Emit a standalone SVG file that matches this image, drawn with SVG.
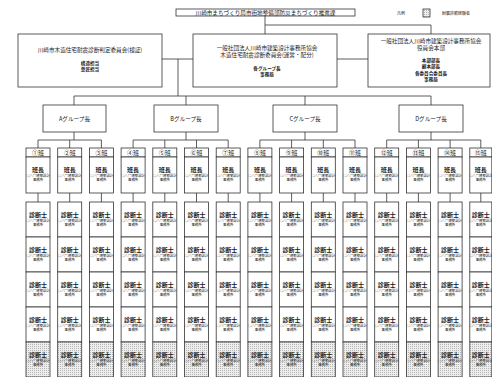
<svg xmlns="http://www.w3.org/2000/svg" width="492" height="377" viewBox="0 0 492 377">
<style>
.box{fill:#fff;stroke:#333;stroke-width:0.8}
.shade{fill:url(#dots);stroke:#333;stroke-width:0.8}
.ln{stroke:#333;stroke-width:0.8;fill:none}
text{font-family:"Noto Sans CJK JP","Noto Sans",sans-serif;fill:#222;text-anchor:middle}
.t{font-size:5.6px}
.b{font-size:4.6px;font-weight:bold}
.hd{font-size:6px}
.nm{font-size:6px;font-weight:bold}
.sm{font-size:3.4px}
.lg{font-size:4px;text-anchor:start}
</style>
<defs>
<pattern id="dots" width="2" height="2" patternUnits="userSpaceOnUse"><rect width="2" height="2" fill="#eeeeee"/><rect width="1" height="1" fill="#b5b5b5"/></pattern>
</defs>
<rect width="492" height="377" fill="#fff"/>

<g id="connectors" class="ln">
<path d="M265,16 V34"/>
<path d="M265,25 H431 V34"/>
<path d="M162,59 H193"/>
<path d="M337,59 H368"/>
<path d="M178,59 V96"/>
<path d="M74,96 H431"/>
<path d="M74,96 V105 M186,96 V105 M305,96 V105 M431,96 V105"/>
<path d="M74,132 V140 M38,140 H101.4 M38,140 V148 M69.7,140 V148 M101.4,140 V148"/>
<path d="M186,132 V140 M133.1,140 H228.2 M133.1,140 V148 M164.8,140 V148 M196.5,140 V148 M228.2,140 V148"/>
<path d="M305,132 V140 M259.9,140 H355 M259.9,140 V148 M291.6,140 V148 M323.3,140 V148 M355,140 V148"/>
<path d="M431,132 V140 M386.7,140 H480.8 M386.7,140 V148 M418.4,140 V148 M450.1,140 V148 M480.8,140 V148"/>
<path d="M38,193 V202 M69.7,193 V202 M101.4,193 V202 M133.1,193 V202 M164.8,193 V202 M196.5,193 V202 M228.2,193 V202 M259.9,193 V202 M291.6,193 V202 M323.3,193 V202 M355,193 V202 M386.7,193 V202 M418.4,193 V202 M450.1,193 V202 M480.8,193 V202"/>
</g>

<g id="title">
<rect class="box" x="176" y="9" width="179" height="7"/>
<text class="t" x="265.5" y="14.8">川崎市まちづくり局市街地整備部防災まちづくり推進課</text>
</g>

<g id="legend">
<text class="lg" x="397" y="14.5">凡例</text>
<rect class="shade" x="423" y="9" width="7" height="8"/>
<text class="lg" x="442" y="14.5">耐震診断経験者</text>
</g>

<g id="committee">
<rect class="box" x="18" y="34" width="144" height="53"/>
<text class="t" x="90" y="52">川崎市木造住宅耐震診断判定委員会(検証)</text>
<text class="b" x="90" y="64.5">構造担当</text>
<text class="b" x="90" y="71">意匠担当</text>
</g>

<g id="association">
<rect class="box" x="193" y="34" width="144" height="53"/>
<text class="t" x="267" y="49.5">一般社団法人川崎市建築設計事務所協会</text>
<text class="t" x="267" y="57">木造住宅耐震診断委員会(運営・配分)</text>
<text class="b" x="267" y="69.5">各グループ長</text>
<text class="b" x="267" y="76">事務局</text>
</g>

<g id="headquarters">
<rect class="box" x="368" y="34" width="122" height="53"/>
<text class="t" x="431" y="42.5">一般社団法人川崎市建築設計事務所協会</text>
<text class="t" x="431" y="49.5">役員会本部</text>
<text class="b" x="431" y="62">本部部長</text>
<text class="b" x="431" y="68.3">副本部長</text>
<text class="b" x="431" y="74.6">各委員会委員長</text>
<text class="b" x="431" y="81">事務局</text>
</g>

<g id="groupA"><rect class="box" x="43" y="105" width="63" height="27"/><text class="t" x="74.5" y="120.5">Aグループ長</text></g>
<g id="groupB"><rect class="box" x="154" y="105" width="64" height="27"/><text class="t" x="186" y="120.5">Bグループ長</text></g>
<g id="groupC"><rect class="box" x="273" y="105" width="64" height="27"/><text class="t" x="305" y="120.5">Cグループ長</text></g>
<g id="groupD"><rect class="box" x="399" y="105" width="64" height="27"/><text class="t" x="431" y="120.5">Dグループ長</text></g>

<g id="team1">
<rect class="box" x="26" y="148" width="24" height="9"/><text class="hd" x="38" y="155">①班</text>
<rect class="box" x="26" y="157" width="24" height="36"/><text class="nm" x="38" y="172">班長</text><text class="sm" x="38" y="176.5">○△□建築設計</text><text class="sm" x="38" y="180.5">事務所</text>
<rect class="box" x="26" y="202" width="24" height="35"/><text class="nm" x="38" y="217">診断士</text><text class="sm" x="38" y="221.5">○△□建築設計</text><text class="sm" x="38" y="225.5">事務所</text>
<rect class="box" x="26" y="237" width="24" height="35"/><text class="nm" x="38" y="252">診断士</text><text class="sm" x="38" y="256.5">○△□建築設計</text><text class="sm" x="38" y="260.5">事務所</text>
<rect class="box" x="26" y="272" width="24" height="35"/><text class="nm" x="38" y="287">診断士</text><text class="sm" x="38" y="291.5">○△□建築設計</text><text class="sm" x="38" y="295.5">事務所</text>
<rect class="box" x="26" y="307" width="24" height="35"/><text class="nm" x="38" y="322">診断士</text><text class="sm" x="38" y="326.5">○△□建築設計</text><text class="sm" x="38" y="330.5">事務所</text>
<rect class="shade" x="26" y="342" width="24" height="35"/><text class="nm" x="38" y="357">診断士</text><text class="sm" x="38" y="361.5">○△□建築設計</text><text class="sm" x="38" y="365.5">事務所</text>
</g>

<g id="team2">
<rect class="box" x="57.7" y="148" width="24" height="9"/><text class="hd" x="69.7" y="155">②班</text>
<rect class="box" x="57.7" y="157" width="24" height="36"/><text class="nm" x="69.7" y="172">班長</text><text class="sm" x="69.7" y="176.5">○△□建築設計</text><text class="sm" x="69.7" y="180.5">事務所</text>
<rect class="box" x="57.7" y="202" width="24" height="35"/><text class="nm" x="69.7" y="217">診断士</text><text class="sm" x="69.7" y="221.5">○△□建築設計</text><text class="sm" x="69.7" y="225.5">事務所</text>
<rect class="box" x="57.7" y="237" width="24" height="35"/><text class="nm" x="69.7" y="252">診断士</text><text class="sm" x="69.7" y="256.5">○△□建築設計</text><text class="sm" x="69.7" y="260.5">事務所</text>
<rect class="box" x="57.7" y="272" width="24" height="35"/><text class="nm" x="69.7" y="287">診断士</text><text class="sm" x="69.7" y="291.5">○△□建築設計</text><text class="sm" x="69.7" y="295.5">事務所</text>
<rect class="box" x="57.7" y="307" width="24" height="35"/><text class="nm" x="69.7" y="322">診断士</text><text class="sm" x="69.7" y="326.5">○△□建築設計</text><text class="sm" x="69.7" y="330.5">事務所</text>
<rect class="shade" x="57.7" y="342" width="24" height="35"/><text class="nm" x="69.7" y="357">診断士</text><text class="sm" x="69.7" y="361.5">○△□建築設計</text><text class="sm" x="69.7" y="365.5">事務所</text>
</g>

<g id="team3">
<rect class="box" x="89.4" y="148" width="24" height="9"/><text class="hd" x="101.4" y="155">③班</text>
<rect class="box" x="89.4" y="157" width="24" height="36"/><text class="nm" x="101.4" y="172">班長</text><text class="sm" x="101.4" y="176.5">○△□建築設計</text><text class="sm" x="101.4" y="180.5">事務所</text>
<rect class="box" x="89.4" y="202" width="24" height="35"/><text class="nm" x="101.4" y="217">診断士</text><text class="sm" x="101.4" y="221.5">○△□建築設計</text><text class="sm" x="101.4" y="225.5">事務所</text>
<rect class="box" x="89.4" y="237" width="24" height="35"/><text class="nm" x="101.4" y="252">診断士</text><text class="sm" x="101.4" y="256.5">○△□建築設計</text><text class="sm" x="101.4" y="260.5">事務所</text>
<rect class="box" x="89.4" y="272" width="24" height="35"/><text class="nm" x="101.4" y="287">診断士</text><text class="sm" x="101.4" y="291.5">○△□建築設計</text><text class="sm" x="101.4" y="295.5">事務所</text>
<rect class="box" x="89.4" y="307" width="24" height="35"/><text class="nm" x="101.4" y="322">診断士</text><text class="sm" x="101.4" y="326.5">○△□建築設計</text><text class="sm" x="101.4" y="330.5">事務所</text>
<rect class="shade" x="89.4" y="342" width="24" height="35"/><text class="nm" x="101.4" y="357">診断士</text><text class="sm" x="101.4" y="361.5">○△□建築設計</text><text class="sm" x="101.4" y="365.5">事務所</text>
</g>

<g id="team4">
<rect class="box" x="121.1" y="148" width="24" height="9"/><text class="hd" x="133.1" y="155">④班</text>
<rect class="box" x="121.1" y="157" width="24" height="36"/><text class="nm" x="133.1" y="172">班長</text><text class="sm" x="133.1" y="176.5">○△□建築設計</text><text class="sm" x="133.1" y="180.5">事務所</text>
<rect class="box" x="121.1" y="202" width="24" height="35"/><text class="nm" x="133.1" y="217">診断士</text><text class="sm" x="133.1" y="221.5">○△□建築設計</text><text class="sm" x="133.1" y="225.5">事務所</text>
<rect class="box" x="121.1" y="237" width="24" height="35"/><text class="nm" x="133.1" y="252">診断士</text><text class="sm" x="133.1" y="256.5">○△□建築設計</text><text class="sm" x="133.1" y="260.5">事務所</text>
<rect class="box" x="121.1" y="272" width="24" height="35"/><text class="nm" x="133.1" y="287">診断士</text><text class="sm" x="133.1" y="291.5">○△□建築設計</text><text class="sm" x="133.1" y="295.5">事務所</text>
<rect class="box" x="121.1" y="307" width="24" height="35"/><text class="nm" x="133.1" y="322">診断士</text><text class="sm" x="133.1" y="326.5">○△□建築設計</text><text class="sm" x="133.1" y="330.5">事務所</text>
<rect class="shade" x="121.1" y="342" width="24" height="35"/><text class="nm" x="133.1" y="357">診断士</text><text class="sm" x="133.1" y="361.5">○△□建築設計</text><text class="sm" x="133.1" y="365.5">事務所</text>
</g>

<g id="team5">
<rect class="box" x="152.8" y="148" width="24" height="9"/><text class="hd" x="164.8" y="155">⑤班</text>
<rect class="box" x="152.8" y="157" width="24" height="36"/><text class="nm" x="164.8" y="172">班長</text><text class="sm" x="164.8" y="176.5">○△□建築設計</text><text class="sm" x="164.8" y="180.5">事務所</text>
<rect class="box" x="152.8" y="202" width="24" height="35"/><text class="nm" x="164.8" y="217">診断士</text><text class="sm" x="164.8" y="221.5">○△□建築設計</text><text class="sm" x="164.8" y="225.5">事務所</text>
<rect class="box" x="152.8" y="237" width="24" height="35"/><text class="nm" x="164.8" y="252">診断士</text><text class="sm" x="164.8" y="256.5">○△□建築設計</text><text class="sm" x="164.8" y="260.5">事務所</text>
<rect class="box" x="152.8" y="272" width="24" height="35"/><text class="nm" x="164.8" y="287">診断士</text><text class="sm" x="164.8" y="291.5">○△□建築設計</text><text class="sm" x="164.8" y="295.5">事務所</text>
<rect class="box" x="152.8" y="307" width="24" height="35"/><text class="nm" x="164.8" y="322">診断士</text><text class="sm" x="164.8" y="326.5">○△□建築設計</text><text class="sm" x="164.8" y="330.5">事務所</text>
<rect class="shade" x="152.8" y="342" width="24" height="35"/><text class="nm" x="164.8" y="357">診断士</text><text class="sm" x="164.8" y="361.5">○△□建築設計</text><text class="sm" x="164.8" y="365.5">事務所</text>
</g>

<g id="team6">
<rect class="box" x="184.5" y="148" width="24" height="9"/><text class="hd" x="196.5" y="155">⑥班</text>
<rect class="box" x="184.5" y="157" width="24" height="36"/><text class="nm" x="196.5" y="172">班長</text><text class="sm" x="196.5" y="176.5">○△□建築設計</text><text class="sm" x="196.5" y="180.5">事務所</text>
<rect class="box" x="184.5" y="202" width="24" height="35"/><text class="nm" x="196.5" y="217">診断士</text><text class="sm" x="196.5" y="221.5">○△□建築設計</text><text class="sm" x="196.5" y="225.5">事務所</text>
<rect class="box" x="184.5" y="237" width="24" height="35"/><text class="nm" x="196.5" y="252">診断士</text><text class="sm" x="196.5" y="256.5">○△□建築設計</text><text class="sm" x="196.5" y="260.5">事務所</text>
<rect class="box" x="184.5" y="272" width="24" height="35"/><text class="nm" x="196.5" y="287">診断士</text><text class="sm" x="196.5" y="291.5">○△□建築設計</text><text class="sm" x="196.5" y="295.5">事務所</text>
<rect class="box" x="184.5" y="307" width="24" height="35"/><text class="nm" x="196.5" y="322">診断士</text><text class="sm" x="196.5" y="326.5">○△□建築設計</text><text class="sm" x="196.5" y="330.5">事務所</text>
<rect class="shade" x="184.5" y="342" width="24" height="35"/><text class="nm" x="196.5" y="357">診断士</text><text class="sm" x="196.5" y="361.5">○△□建築設計</text><text class="sm" x="196.5" y="365.5">事務所</text>
</g>

<g id="team7">
<rect class="box" x="216.2" y="148" width="24" height="9"/><text class="hd" x="228.2" y="155">⑦班</text>
<rect class="box" x="216.2" y="157" width="24" height="36"/><text class="nm" x="228.2" y="172">班長</text><text class="sm" x="228.2" y="176.5">○△□建築設計</text><text class="sm" x="228.2" y="180.5">事務所</text>
<rect class="box" x="216.2" y="202" width="24" height="35"/><text class="nm" x="228.2" y="217">診断士</text><text class="sm" x="228.2" y="221.5">○△□建築設計</text><text class="sm" x="228.2" y="225.5">事務所</text>
<rect class="box" x="216.2" y="237" width="24" height="35"/><text class="nm" x="228.2" y="252">診断士</text><text class="sm" x="228.2" y="256.5">○△□建築設計</text><text class="sm" x="228.2" y="260.5">事務所</text>
<rect class="box" x="216.2" y="272" width="24" height="35"/><text class="nm" x="228.2" y="287">診断士</text><text class="sm" x="228.2" y="291.5">○△□建築設計</text><text class="sm" x="228.2" y="295.5">事務所</text>
<rect class="box" x="216.2" y="307" width="24" height="35"/><text class="nm" x="228.2" y="322">診断士</text><text class="sm" x="228.2" y="326.5">○△□建築設計</text><text class="sm" x="228.2" y="330.5">事務所</text>
<rect class="shade" x="216.2" y="342" width="24" height="35"/><text class="nm" x="228.2" y="357">診断士</text><text class="sm" x="228.2" y="361.5">○△□建築設計</text><text class="sm" x="228.2" y="365.5">事務所</text>
</g>

<g id="team8">
<rect class="box" x="247.9" y="148" width="24" height="9"/><text class="hd" x="259.9" y="155">⑧班</text>
<rect class="box" x="247.9" y="157" width="24" height="36"/><text class="nm" x="259.9" y="172">班長</text><text class="sm" x="259.9" y="176.5">○△□建築設計</text><text class="sm" x="259.9" y="180.5">事務所</text>
<rect class="box" x="247.9" y="202" width="24" height="35"/><text class="nm" x="259.9" y="217">診断士</text><text class="sm" x="259.9" y="221.5">○△□建築設計</text><text class="sm" x="259.9" y="225.5">事務所</text>
<rect class="box" x="247.9" y="237" width="24" height="35"/><text class="nm" x="259.9" y="252">診断士</text><text class="sm" x="259.9" y="256.5">○△□建築設計</text><text class="sm" x="259.9" y="260.5">事務所</text>
<rect class="box" x="247.9" y="272" width="24" height="35"/><text class="nm" x="259.9" y="287">診断士</text><text class="sm" x="259.9" y="291.5">○△□建築設計</text><text class="sm" x="259.9" y="295.5">事務所</text>
<rect class="box" x="247.9" y="307" width="24" height="35"/><text class="nm" x="259.9" y="322">診断士</text><text class="sm" x="259.9" y="326.5">○△□建築設計</text><text class="sm" x="259.9" y="330.5">事務所</text>
<rect class="shade" x="247.9" y="342" width="24" height="35"/><text class="nm" x="259.9" y="357">診断士</text><text class="sm" x="259.9" y="361.5">○△□建築設計</text><text class="sm" x="259.9" y="365.5">事務所</text>
</g>

<g id="team9">
<rect class="box" x="279.6" y="148" width="24" height="9"/><text class="hd" x="291.6" y="155">⑨班</text>
<rect class="box" x="279.6" y="157" width="24" height="36"/><text class="nm" x="291.6" y="172">班長</text><text class="sm" x="291.6" y="176.5">○△□建築設計</text><text class="sm" x="291.6" y="180.5">事務所</text>
<rect class="box" x="279.6" y="202" width="24" height="35"/><text class="nm" x="291.6" y="217">診断士</text><text class="sm" x="291.6" y="221.5">○△□建築設計</text><text class="sm" x="291.6" y="225.5">事務所</text>
<rect class="box" x="279.6" y="237" width="24" height="35"/><text class="nm" x="291.6" y="252">診断士</text><text class="sm" x="291.6" y="256.5">○△□建築設計</text><text class="sm" x="291.6" y="260.5">事務所</text>
<rect class="box" x="279.6" y="272" width="24" height="35"/><text class="nm" x="291.6" y="287">診断士</text><text class="sm" x="291.6" y="291.5">○△□建築設計</text><text class="sm" x="291.6" y="295.5">事務所</text>
<rect class="box" x="279.6" y="307" width="24" height="35"/><text class="nm" x="291.6" y="322">診断士</text><text class="sm" x="291.6" y="326.5">○△□建築設計</text><text class="sm" x="291.6" y="330.5">事務所</text>
<rect class="shade" x="279.6" y="342" width="24" height="35"/><text class="nm" x="291.6" y="357">診断士</text><text class="sm" x="291.6" y="361.5">○△□建築設計</text><text class="sm" x="291.6" y="365.5">事務所</text>
</g>

<g id="team10">
<rect class="box" x="311.3" y="148" width="24" height="9"/><text class="hd" x="323.3" y="155">⑩班</text>
<rect class="box" x="311.3" y="157" width="24" height="36"/><text class="nm" x="323.3" y="172">班長</text><text class="sm" x="323.3" y="176.5">○△□建築設計</text><text class="sm" x="323.3" y="180.5">事務所</text>
<rect class="box" x="311.3" y="202" width="24" height="35"/><text class="nm" x="323.3" y="217">診断士</text><text class="sm" x="323.3" y="221.5">○△□建築設計</text><text class="sm" x="323.3" y="225.5">事務所</text>
<rect class="box" x="311.3" y="237" width="24" height="35"/><text class="nm" x="323.3" y="252">診断士</text><text class="sm" x="323.3" y="256.5">○△□建築設計</text><text class="sm" x="323.3" y="260.5">事務所</text>
<rect class="box" x="311.3" y="272" width="24" height="35"/><text class="nm" x="323.3" y="287">診断士</text><text class="sm" x="323.3" y="291.5">○△□建築設計</text><text class="sm" x="323.3" y="295.5">事務所</text>
<rect class="box" x="311.3" y="307" width="24" height="35"/><text class="nm" x="323.3" y="322">診断士</text><text class="sm" x="323.3" y="326.5">○△□建築設計</text><text class="sm" x="323.3" y="330.5">事務所</text>
<rect class="shade" x="311.3" y="342" width="24" height="35"/><text class="nm" x="323.3" y="357">診断士</text><text class="sm" x="323.3" y="361.5">○△□建築設計</text><text class="sm" x="323.3" y="365.5">事務所</text>
</g>

<g id="team11">
<rect class="box" x="343" y="148" width="24" height="9"/><text class="hd" x="355" y="155">⑪班</text>
<rect class="box" x="343" y="157" width="24" height="36"/><text class="nm" x="355" y="172">班長</text><text class="sm" x="355" y="176.5">○△□建築設計</text><text class="sm" x="355" y="180.5">事務所</text>
<rect class="box" x="343" y="202" width="24" height="35"/><text class="nm" x="355" y="217">診断士</text><text class="sm" x="355" y="221.5">○△□建築設計</text><text class="sm" x="355" y="225.5">事務所</text>
<rect class="box" x="343" y="237" width="24" height="35"/><text class="nm" x="355" y="252">診断士</text><text class="sm" x="355" y="256.5">○△□建築設計</text><text class="sm" x="355" y="260.5">事務所</text>
<rect class="box" x="343" y="272" width="24" height="35"/><text class="nm" x="355" y="287">診断士</text><text class="sm" x="355" y="291.5">○△□建築設計</text><text class="sm" x="355" y="295.5">事務所</text>
<rect class="box" x="343" y="307" width="24" height="35"/><text class="nm" x="355" y="322">診断士</text><text class="sm" x="355" y="326.5">○△□建築設計</text><text class="sm" x="355" y="330.5">事務所</text>
<rect class="shade" x="343" y="342" width="24" height="35"/><text class="nm" x="355" y="357">診断士</text><text class="sm" x="355" y="361.5">○△□建築設計</text><text class="sm" x="355" y="365.5">事務所</text>
</g>

<g id="team12">
<rect class="box" x="374.7" y="148" width="24" height="9"/><text class="hd" x="386.7" y="155">⑫班</text>
<rect class="box" x="374.7" y="157" width="24" height="36"/><text class="nm" x="386.7" y="172">班長</text><text class="sm" x="386.7" y="176.5">○△□建築設計</text><text class="sm" x="386.7" y="180.5">事務所</text>
<rect class="box" x="374.7" y="202" width="24" height="35"/><text class="nm" x="386.7" y="217">診断士</text><text class="sm" x="386.7" y="221.5">○△□建築設計</text><text class="sm" x="386.7" y="225.5">事務所</text>
<rect class="box" x="374.7" y="237" width="24" height="35"/><text class="nm" x="386.7" y="252">診断士</text><text class="sm" x="386.7" y="256.5">○△□建築設計</text><text class="sm" x="386.7" y="260.5">事務所</text>
<rect class="box" x="374.7" y="272" width="24" height="35"/><text class="nm" x="386.7" y="287">診断士</text><text class="sm" x="386.7" y="291.5">○△□建築設計</text><text class="sm" x="386.7" y="295.5">事務所</text>
<rect class="box" x="374.7" y="307" width="24" height="35"/><text class="nm" x="386.7" y="322">診断士</text><text class="sm" x="386.7" y="326.5">○△□建築設計</text><text class="sm" x="386.7" y="330.5">事務所</text>
<rect class="shade" x="374.7" y="342" width="24" height="35"/><text class="nm" x="386.7" y="357">診断士</text><text class="sm" x="386.7" y="361.5">○△□建築設計</text><text class="sm" x="386.7" y="365.5">事務所</text>
</g>

<g id="team13">
<rect class="box" x="406.4" y="148" width="24" height="9"/><text class="hd" x="418.4" y="155">⑬班</text>
<rect class="box" x="406.4" y="157" width="24" height="36"/><text class="nm" x="418.4" y="172">班長</text><text class="sm" x="418.4" y="176.5">○△□建築設計</text><text class="sm" x="418.4" y="180.5">事務所</text>
<rect class="box" x="406.4" y="202" width="24" height="35"/><text class="nm" x="418.4" y="217">診断士</text><text class="sm" x="418.4" y="221.5">○△□建築設計</text><text class="sm" x="418.4" y="225.5">事務所</text>
<rect class="box" x="406.4" y="237" width="24" height="35"/><text class="nm" x="418.4" y="252">診断士</text><text class="sm" x="418.4" y="256.5">○△□建築設計</text><text class="sm" x="418.4" y="260.5">事務所</text>
<rect class="box" x="406.4" y="272" width="24" height="35"/><text class="nm" x="418.4" y="287">診断士</text><text class="sm" x="418.4" y="291.5">○△□建築設計</text><text class="sm" x="418.4" y="295.5">事務所</text>
<rect class="box" x="406.4" y="307" width="24" height="35"/><text class="nm" x="418.4" y="322">診断士</text><text class="sm" x="418.4" y="326.5">○△□建築設計</text><text class="sm" x="418.4" y="330.5">事務所</text>
<rect class="shade" x="406.4" y="342" width="24" height="35"/><text class="nm" x="418.4" y="357">診断士</text><text class="sm" x="418.4" y="361.5">○△□建築設計</text><text class="sm" x="418.4" y="365.5">事務所</text>
</g>

<g id="team14">
<rect class="box" x="438.1" y="148" width="24" height="9"/><text class="hd" x="450.1" y="155">⑭班</text>
<rect class="box" x="438.1" y="157" width="24" height="36"/><text class="nm" x="450.1" y="172">班長</text><text class="sm" x="450.1" y="176.5">○△□建築設計</text><text class="sm" x="450.1" y="180.5">事務所</text>
<rect class="box" x="438.1" y="202" width="24" height="35"/><text class="nm" x="450.1" y="217">診断士</text><text class="sm" x="450.1" y="221.5">○△□建築設計</text><text class="sm" x="450.1" y="225.5">事務所</text>
<rect class="box" x="438.1" y="237" width="24" height="35"/><text class="nm" x="450.1" y="252">診断士</text><text class="sm" x="450.1" y="256.5">○△□建築設計</text><text class="sm" x="450.1" y="260.5">事務所</text>
<rect class="box" x="438.1" y="272" width="24" height="35"/><text class="nm" x="450.1" y="287">診断士</text><text class="sm" x="450.1" y="291.5">○△□建築設計</text><text class="sm" x="450.1" y="295.5">事務所</text>
<rect class="box" x="438.1" y="307" width="24" height="35"/><text class="nm" x="450.1" y="322">診断士</text><text class="sm" x="450.1" y="326.5">○△□建築設計</text><text class="sm" x="450.1" y="330.5">事務所</text>
<rect class="shade" x="438.1" y="342" width="24" height="35"/><text class="nm" x="450.1" y="357">診断士</text><text class="sm" x="450.1" y="361.5">○△□建築設計</text><text class="sm" x="450.1" y="365.5">事務所</text>
</g>

<g id="team15">
<rect class="box" x="469.8" y="148" width="22" height="9"/><text class="hd" x="480.8" y="155">⑮班</text>
<rect class="box" x="469.8" y="157" width="22" height="36"/><text class="nm" x="480.8" y="172">班長</text><text class="sm" x="480.8" y="176.5">○△□建築設計</text><text class="sm" x="480.8" y="180.5">事務所</text>
<rect class="box" x="469.8" y="202" width="22" height="35"/><text class="nm" x="480.8" y="217">診断士</text><text class="sm" x="480.8" y="221.5">○△□建築設計</text><text class="sm" x="480.8" y="225.5">事務所</text>
<rect class="box" x="469.8" y="237" width="22" height="35"/><text class="nm" x="480.8" y="252">診断士</text><text class="sm" x="480.8" y="256.5">○△□建築設計</text><text class="sm" x="480.8" y="260.5">事務所</text>
<rect class="box" x="469.8" y="272" width="22" height="35"/><text class="nm" x="480.8" y="287">診断士</text><text class="sm" x="480.8" y="291.5">○△□建築設計</text><text class="sm" x="480.8" y="295.5">事務所</text>
<rect class="box" x="469.8" y="307" width="22" height="35"/><text class="nm" x="480.8" y="322">診断士</text><text class="sm" x="480.8" y="326.5">○△□建築設計</text><text class="sm" x="480.8" y="330.5">事務所</text>
<rect class="shade" x="469.8" y="342" width="22" height="35"/><text class="nm" x="480.8" y="357">診断士</text><text class="sm" x="480.8" y="361.5">○△□建築設計</text><text class="sm" x="480.8" y="365.5">事務所</text>
</g>
</svg>
